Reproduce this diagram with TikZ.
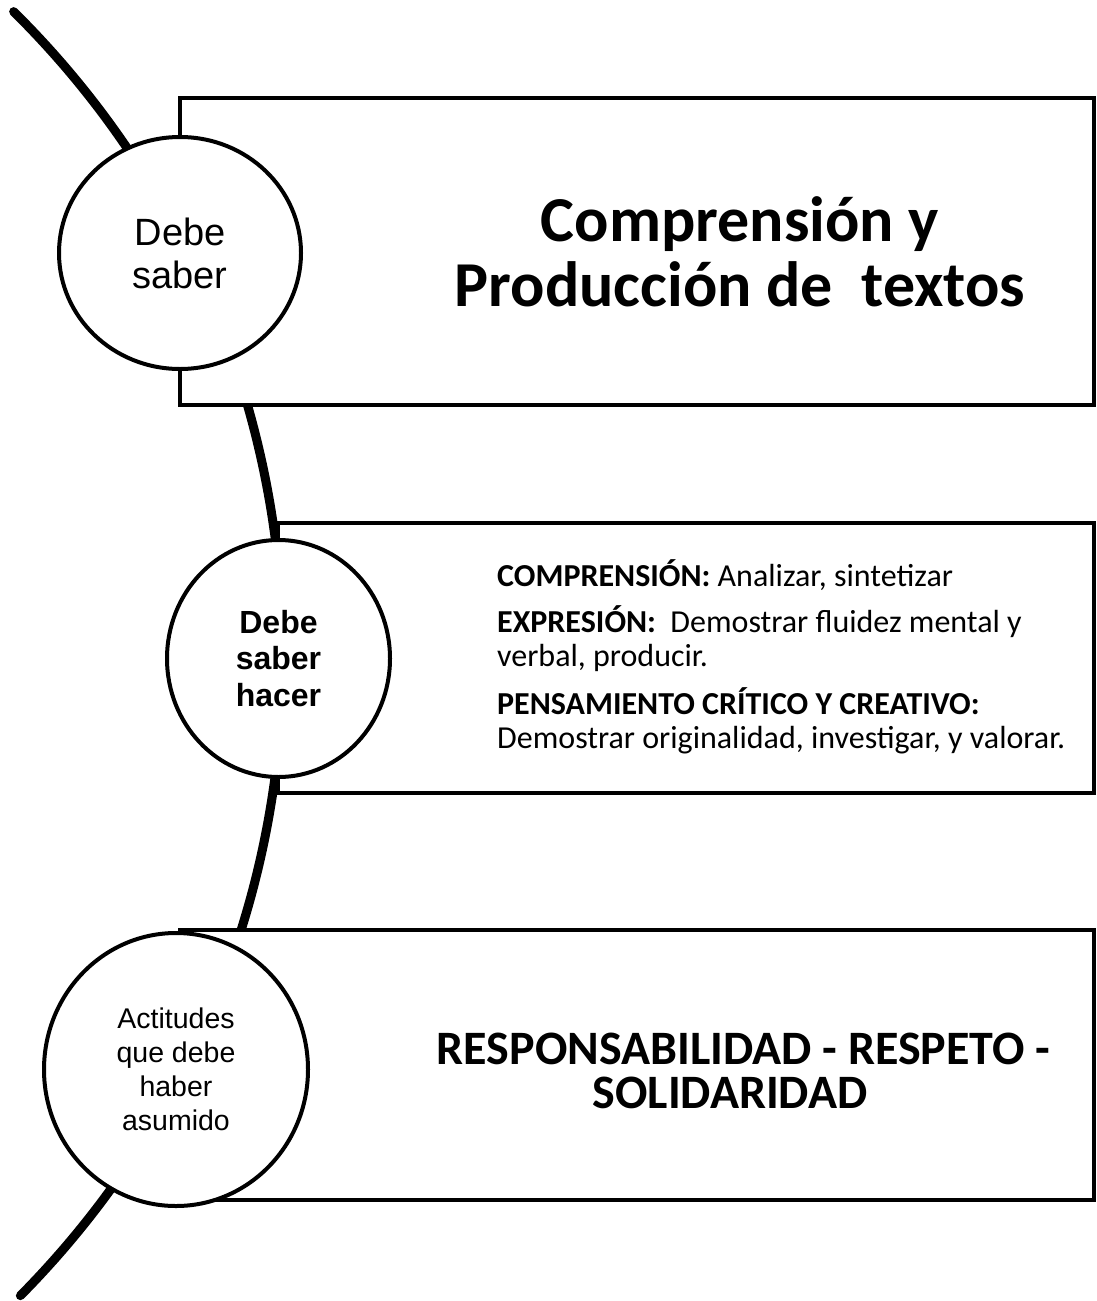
\documentclass[tikz,border=0pt]{standalone}
\usepackage{fontspec}
\setmainfont{Carlito}
\newfontfamily\arialfont{Liberation Sans}
\usetikzlibrary{shapes.geometric}

\begin{document}
\begin{tikzpicture}[x=1pt, y=1pt,
  caja/.style={draw, line width=4pt, fill=white, rectangle, inner sep=0pt},
  burbuja/.style={draw, line width=4pt, fill=white, ellipse, inner sep=0pt, align=center},
  eje/.style={line width=9pt, line cap=round}]
 \useasboundingbox[fill=white] (0,0) rectangle (1097,-1301);
 % curva de fondo
 \coordinate (centro) at (-625,-657);
 \draw[eje] (centro) ++(45.3:908) arc[start angle=45.3, end angle=-44.7, radius=908];
 % cajas
 \node[caja, minimum width=914pt, minimum height=307pt] (conocer) at (637,-251.5) {};
 \node[caja, minimum width=816pt, minimum height=270pt] (hacerbox) at (686,-658) {};
 \node[caja, minimum width=914pt, minimum height=270pt] (valores) at (637,-1065) {};
 % textos de las cajas
 \node[font=\fontsize{64}{65}\selectfont\bfseries, align=center] (titulo) at (740,-252)
  {Comprensión y\\Producción de\ \ textos};
 \node[anchor=north west, align=left, inner sep=0pt,
  font=\fontsize{32}{34}\selectfont] (habilidades) at (497,-559)
  {\textbf{COMPRENSIÓN:} Analizar, sintetizar\\[12pt]
   \textbf{EXPRESIÓN:}\ \ Demostrar fluidez mental y\\
   verbal, producir.\\[14pt]
   \textbf{PENSAMIENTO CRÍTICO Y CREATIVO:}\\
   Demostrar originalidad, investigar, y valorar.};
 \node[font=\fontsize{48}{45}\selectfont\bfseries, anchor=base] (lema) at (743.5,-1064)
  {RESPONSABILIDAD - RESPETO -};
 \node[font=\fontsize{48}{45}\selectfont\bfseries, anchor=base] (lema2) at (730,-1108)
  {SOLIDARIDAD};
 % burbujas
 \node[burbuja, minimum width=242pt, minimum height=232pt,
  font=\arialfont\fontsize{38}{43}\selectfont] (saber) at (180,-253) {Debe\\saber};
 \node[burbuja, minimum width=223pt, minimum height=237pt,
  font=\arialfont\bfseries\fontsize{32}{36.5}\selectfont] (hacer) at (278.5,-658.5) {Debe\\saber\\hacer};
 \node[burbuja, minimum width=264pt, minimum height=273pt,
  font=\arialfont\fontsize{28.5}{34}\selectfont] (actitudes) at (176,-1069.5) {Actitudes\\que debe\\haber\\asumido};
\end{tikzpicture}
\end{document}
